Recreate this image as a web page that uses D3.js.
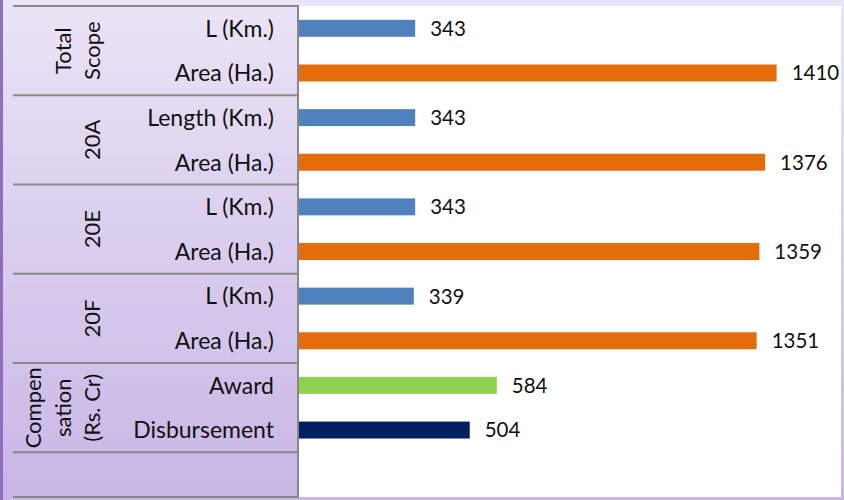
<!DOCTYPE html>
<html>
<head>
<meta charset="utf-8">
<script src="https://cdn.jsdelivr.net/npm/d3@7"></script>
<style>
  body { margin: 0; background: #fff; }
  svg { display: block; font-family: Lato, "Open Sans", sans-serif; }
</style>
</head>
<body>
<div id="chart"></div>
<script>
var width = 844, height = 500;

// data
var groups = [["Total", "Scope"], ["20A"], ["20E"], ["20F"], ["Compen", "sation", "(Rs. Cr)"]];
var categories = ["L (Km.)", "Area (Ha.)", "Length (Km.)", "Area (Ha.)", "L (Km.)", "Area (Ha.)",
                  "L (Km.)", "Area (Ha.)", "Award", "Disbursement"];
var kinds = ["length", "area", "length", "area", "length", "area", "length", "area", "award", "disbursement"];
var values = [343, 1410, 343, 1376, 343, 1359, 339, 1351, 584, 504];

var color = d3.scaleOrdinal()
    .domain(["length", "area", "award", "disbursement"])
    .range(["#4f81bd", "#e46c0a", "#92d050", "#002060"]);

var plotLeft = 299, plotRight = 841, plotTop = 6, plotBottom = 497;

var svg = d3.select("#chart").append("svg")
    .attr("width", width)
    .attr("height", height);

var defs = svg.append("defs");
var grad = defs.append("linearGradient")
    .attr("id", "bg")
    .attr("x1", 0).attr("y1", 0).attr("x2", 0).attr("y2", 1);
grad.append("stop").attr("offset", "0%").attr("stop-color", "#ebe4f6");
grad.append("stop").attr("offset", "100%").attr("stop-color", "#c8b6e5");

svg.append("rect")
    .attr("width", width).attr("height", height)
    .attr("fill", "url(#bg)");

svg.append("rect")
    .attr("x", 0).attr("y", 0).attr("width", 3).attr("height", height)
    .attr("fill", "#8c6fbf");

svg.append("rect")
    .attr("x", plotLeft).attr("y", plotTop)
    .attr("width", plotRight - plotLeft).attr("height", plotBottom - plotTop)
    .attr("fill", "#fff");

// one empty slot at the bottom, like the original
var slots = d3.range(categories.length + 1);

var y = d3.scaleBand()
    .domain(slots)
    .range([plotTop, plotBottom])
    .paddingInner(0.62)
    .paddingOuter(0.31);

var x = d3.scaleLinear()
    .domain([0, 1600])
    .range([plotLeft, plotRight]);

var step = y.step();
function rowTop(i) { return plotTop + i * step; }

// table lines
var lineYs = d3.range(0, slots.length + 1, 2).map(rowTop);
lineYs.push(plotBottom);
svg.selectAll(".hline")
    .data(lineYs)
  .enter().append("line")
    .attr("class", "hline")
    .attr("x1", 13).attr("x2", plotLeft - 1)
    .attr("y1", function(d) { return d; })
    .attr("y2", function(d) { return d; })
    .attr("stroke", "#888")
    .attr("stroke-width", 2);

svg.append("line")
    .attr("x1", plotLeft - 1).attr("x2", plotLeft - 1)
    .attr("y1", plotTop - 1).attr("y2", plotBottom + 1)
    .attr("stroke", "#888")
    .attr("stroke-width", 2);

// bars
svg.selectAll(".bar")
    .data(values)
  .enter().append("rect")
    .attr("class", "bar")
    .attr("x", x(0))
    .attr("y", function(d, i) { return y(i); })
    .attr("width", function(d) { return x(d) - x(0); })
    .attr("height", y.bandwidth())
    .attr("fill", function(d, i) { return color(kinds[i]); });

svg.selectAll(".value-label")
    .data(values)
  .enter().append("text")
    .attr("class", "value-label")
    .attr("x", function(d) { return x(d) + 15; })
    .attr("y", function(d, i) { return y(i) + y.bandwidth() / 2; })
    .attr("dy", ".36em")
    .style("font-size", "20.5px")
    .attr("fill", "#111")
    .text(function(d) { return d; });

// category labels
svg.selectAll(".cat-label")
    .data(categories)
  .enter().append("text")
    .attr("class", "cat-label")
    .attr("x", 274)
    .attr("y", function(d, i) { return y(i) + y.bandwidth() / 2; })
    .attr("dy", ".36em")
    .attr("text-anchor", "end")
    .style("font-size", "23px")
    .attr("fill", "#111")
    .text(function(d) { return d; });

// group labels, rotated, last line sits at the right
var lineGap = 29.5;
var groupLabels = svg.selectAll(".group-label")
    .data(groups)
  .enter().append("g")
    .attr("class", "group-label")
    .attr("transform", function(d, i) {
      return "translate(0," + (rowTop(i * 2) + step) + ")";
    });

groupLabels.selectAll("text")
    .data(function(d) { return d.map(function(t, j) { return {t: t, k: d.length - 1 - j}; }); })
  .enter().append("text")
    .attr("transform", function(d) { return "translate(" + (100 - d.k * lineGap) + ",0) rotate(-90)"; })
    .attr("text-anchor", "middle")
    .style("font-size", "22px")
    .attr("fill", "#111")
    .text(function(d) { return d.t; });
</script>
</body>
</html>
